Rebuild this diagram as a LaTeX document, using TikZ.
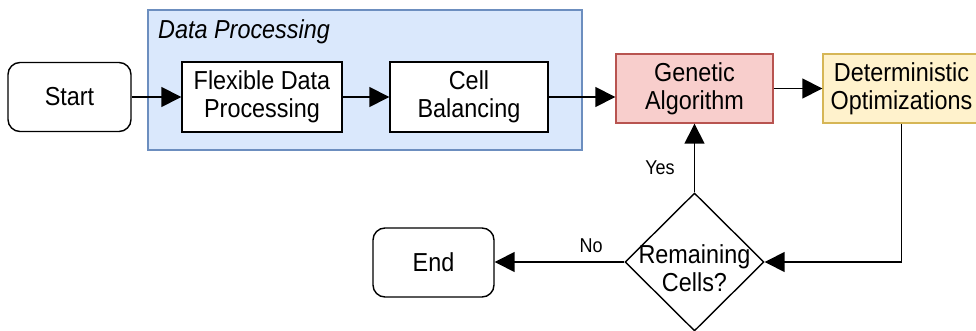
\documentclass[tikz,border=0pt]{standalone}
\usepackage{fontspec}
\setmainfont{Liberation Sans}[FakeStretch=0.9]
\usetikzlibrary{arrows.meta,shapes.geometric}
\definecolor{grpfill}{HTML}{DAE8FC}
\definecolor{grpdraw}{HTML}{6C8EBF}
\definecolor{gafill}{HTML}{F8CECC}
\definecolor{gadraw}{HTML}{B85450}
\definecolor{dofill}{HTML}{FFF2CC}
\definecolor{dodraw}{HTML}{D6B656}
\begin{document}
\begin{tikzpicture}[x=1pt,y=-1pt,
  txt/.style={font=\fontsize{26}{28}\selectfont},
  box/.style={txt,draw,line width=1.4pt,fill=white,align=center,inner sep=0pt},
  rbox/.style={box,rounded corners=12pt},
  arr/.style={line width=1.5pt,-{Triangle[length=20pt,width=20pt]}},
  lbl/.style={font=\fontsize{20}{22}\selectfont,inner sep=0pt}]
\useasboundingbox (0,0) rectangle (976,331);
\node[draw=grpdraw,fill=grpfill,line width=1.2pt,minimum width=434pt,minimum height=140pt,inner sep=0pt] (grp) at (365,80) {};
\node[anchor=west,inner sep=0pt,font=\fontsize{26}{28}\selectfont\itshape] (grplabel) at (158,32) {Data Processing};
\node[rbox,minimum width=123pt,minimum height=69pt] (start) at (69.5,97) {Start};
\node[box,minimum width=160pt,minimum height=70pt] (flex) at (262,97) {Flexible Data\\Processing};
\node[box,minimum width=158pt,minimum height=70pt] (cell) at (469,97) {Cell\\Balancing};
\node[box,draw=gadraw,fill=gafill,minimum width=157pt,minimum height=69pt] (ga) at (694.5,88.5) {Genetic\\Algorithm};
\node[box,draw=dodraw,fill=dofill,minimum width=157pt,minimum height=69pt] (do) at (901.5,88.5) {Deterministic\\Optimizations};
\node[diamond,draw,line width=1.4pt,fill=white,minimum width=139pt,minimum height=138pt,inner sep=0pt] (dec) at (694.5,262) {};
\node[txt,align=center,inner sep=0pt] (dectext) at (694.5,268) {Remaining\\Cells?};
\node[rbox,minimum width=121pt,minimum height=69pt] (end) at (433.5,262.5) {End};
\draw[arr] (start) -- (flex);
\draw[arr] (flex) -- (cell);
\draw[arr] (cell.east) -- (cell.east -| ga.west);
\draw[arr] (ga) -- (do);
\draw[arr] (do.south) |- (dec.east);
\draw[arr] (dec.west) -- (dec.west -| end.east);
\draw[arr] (dec.north) -- (ga.south);
\node[lbl] (yes) at (660,168) {Yes};
\node[lbl] (no) at (591,246) {No};
\end{tikzpicture}
\end{document}
